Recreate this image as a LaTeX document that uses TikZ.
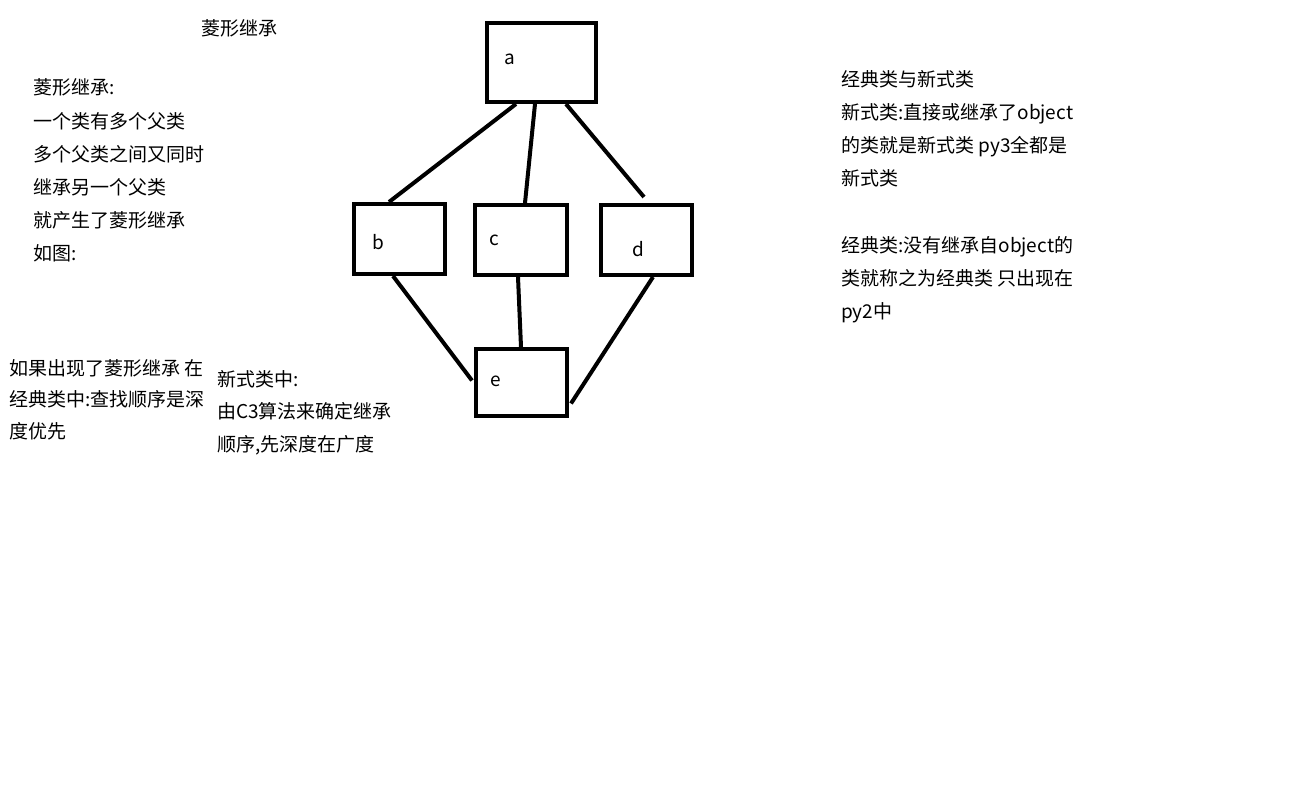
\documentclass[tikz,border=0pt]{standalone}
\usepackage{fontspec}
\setmainfont{Noto Sans CJK SC}
\begin{document}
\begin{tikzpicture}[x=1pt,y=-1pt,
  box/.style={draw,line width=4pt,inner sep=0pt},
  txt/.style={anchor=base west,inner sep=0pt,font=\fontsize{19}{19}\selectfont},
  link/.style={line width=4pt}]
\useasboundingbox[fill=white] (0,0) rectangle (1314,792);
% boxes
\node[box,minimum width=109pt,minimum height=79pt] (a) at (541.5,62.5) {};
\node[box,minimum width=91pt,minimum height=70pt] (b) at (399.5,239) {};
\node[box,minimum width=92pt,minimum height=70pt] (c) at (521,240) {};
\node[box,minimum width=91pt,minimum height=70pt] (d) at (646.5,240) {};
\node[box,minimum width=91pt,minimum height=67pt] (e) at (521.5,382.5) {};
% box labels
\node[txt] (la) at (504,65) {a};
\node[txt] (lb) at (372,249) {b};
\node[txt] (lc) at (489,245) {c};
\node[txt] (ld) at (632,256) {d};
\node[txt] (le) at (490,386) {e};
% connectors
\draw[link] ([xshift=31pt]a.south west) -- ([xshift=37pt]b.north west);
\draw[link] ([xshift=50pt]a.south west) -- ([xshift=52pt]c.north west);
\draw[link] ([xshift=81pt]a.south west) -- ([xshift=45pt,yshift=6pt]d.north west);
\draw[link] ([xshift=41pt]b.south west) -- ([xshift=-2pt,yshift=2pt]e.west);
\draw[link] ([xshift=45pt]c.south west) -- ([xshift=47pt]e.north west);
\draw[link] ([xshift=54pt]d.south west) -- ([xshift=2pt,yshift=-21pt]e.east);
% title
\node[txt] (title) at (201,36) {菱形继承};
% left block
\node[txt] (l1) at (33,95) {菱形继承:};
\node[txt] (l2) at (33,128) {一个类有多个父类};
\node[txt] (l3) at (33,161) {多个父类之间又同时};
\node[txt] (l4) at (33,194) {继承另一个父类};
\node[txt] (l5) at (33,227) {就产生了菱形继承};
\node[txt] (l6) at (33,260) {如图:};
% bottom left
\node[txt] (m1) at (9,375) {如果出现了菱形继承 在};
\node[txt] (m2) at (9,406.5) {经典类中:查找顺序是深};
\node[txt] (m3) at (9,438) {度优先};
% middle
\node[txt] (n1) at (217,386) {新式类中:};
\node[txt] (n2) at (217,418.5) {由C3算法来确定继承};
\node[txt] (n3) at (217,451) {顺序,先深度在广度};
% right
\node[txt] (r1) at (841,86) {经典类与新式类};
\node[txt] (r2) at (841,119) {新式类:直接或继承了object};
\node[txt] (r3) at (841,152) {的类就是新式类 py3全都是};
\node[txt] (r4) at (841,185) {新式类};
\node[txt] (r5) at (841,252) {经典类:没有继承自object的};
\node[txt] (r6) at (841,285) {类就称之为经典类 只出现在};
\node[txt] (r7) at (841,318) {py2中};
\end{tikzpicture}
\end{document}
